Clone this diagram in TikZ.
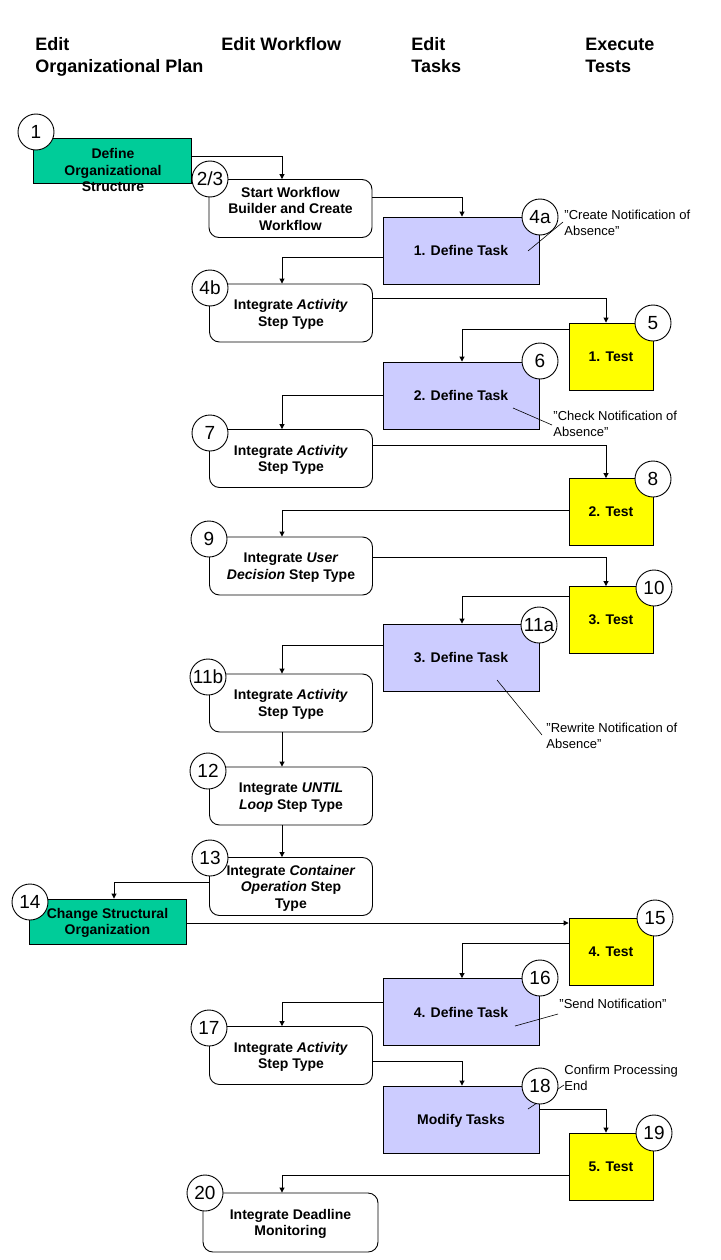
\documentclass[tikz,border=0pt]{standalone}
\usepackage{fontspec}
\setmainfont{Liberation Sans}
\usetikzlibrary{arrows.meta}
\definecolor{orggreen}{RGB}{0,204,153}
\definecolor{tasklav}{RGB}{204,204,255}
\definecolor{testyel}{RGB}{255,255,0}
\newcommand{\qq}{\symbol{34}}
\begin{document}
\begin{tikzpicture}[x=1pt,y=-1pt,
  line width=0.9pt,
  boxtext/.style={font=\bfseries\fontsize{14}{16.5}\selectfont, align=center},
  lowtext/.style={text depth=-6pt},
  wfbox/.style={draw, fill=white, rounded corners=10pt, minimum width=163pt, minimum height=58pt, inner sep=0pt, boxtext, lowtext},
  taskbox/.style={draw, fill=tasklav, minimum width=156pt, minimum height=67pt, inner sep=0pt, boxtext, lowtext},
  testbox/.style={draw, fill=testyel, minimum width=84pt, minimum height=67pt, inner sep=0pt, boxtext, lowtext},
  orgbox/.style={draw, fill=orggreen, minimum width=158pt, minimum height=45pt, inner sep=0pt, boxtext, lowtext},
  numcirc/.style={draw, fill=white, circle, minimum size=36pt, inner sep=0pt, font=\fontsize{19}{19}\selectfont},
  conn/.style={-{Triangle[width=5pt,length=5pt]}},
  note/.style={font=\fontsize{13}{16}\selectfont, align=left, inner sep=0pt, anchor=west},
  noteline/.style={line width=0.6pt},
  head/.style={font=\bfseries\fontsize{18}{22}\selectfont, inner sep=0pt, anchor=base west}
]
\fill[white] (0,0) rectangle (720,1260);
\useasboundingbox (0,0) rectangle (720,1260);

% headers
\node[head] (h1a) at (35,51) {Edit};
\node[head] (h1b) at (35,73) {Organizational Plan};
\node[head] (h2) at (221,51) {Edit Workflow};
\node[head] (h3a) at (411,51) {Edit};
\node[head] (h3b) at (411,73) {Tasks};
\node[head] (h4a) at (585,51) {Execute};
\node[head] (h4b) at (585,73) {Tests};

% boxes
\node[orgbox] (b1) at (112,160.5) {};
\node[boxtext] (b1t) at (113,170) {Define\\Organizational\\Structure};
\node[wfbox] (b23) at (290.5,208.5) {Start Workflow\\Builder and Create\\Workflow};
\node[taskbox] (t4a) at (461,250.5) {1. Define Task};
\node[wfbox] (b4b) at (291,313) {Integrate \textit{Activity}\\Step Type};
\node[testbox] (s1) at (611,356.5) {1. Test};
\node[taskbox] (t6) at (461,395.5) {2. Define Task};
\node[wfbox] (b7) at (291,458.5) {Integrate \textit{Activity}\\Step Type};
\node[testbox] (s2) at (611,512) {2. Test};
\node[wfbox] (b9) at (291,566) {Integrate \textit{User}\\\textit{Decision} Step Type};
\node[testbox] (s3) at (611,620) {3. Test};
\node[taskbox] (t11a) at (461,657.5) {3. Define Task};
\node[wfbox] (b11b) at (291,703) {Integrate \textit{Activity}\\Step Type};
\node[wfbox] (b12) at (291,796) {Integrate \textit{UNTIL}\\\textit{Loop} Step Type};
\node[wfbox] (b13) at (291,886.5) {Integrate \textit{Container}\\\textit{Operation} Step\\Type};
\node[orgbox, minimum width=157pt] (b14) at (107.5,921.5) {Change Structural\\Organization};
\node[testbox] (s4) at (611,951.5) {4. Test};
\node[taskbox] (t16) at (461,1012) {4. Define Task};
\node[wfbox] (b17) at (291,1055.5) {Integrate \textit{Activity}\\Step Type};
\node[taskbox] (tm) at (461,1119.5) {Modify Tasks};
\node[testbox] (s5) at (611,1166.5) {5. Test};
\node[wfbox, minimum width=175pt, minimum height=59pt] (b20) at (290.5,1222.5) {Integrate Deadline\\Monitoring};

% connectors
\draw[conn] ([yshift=4.5pt]b1.east) -| ([xshift=-8.5pt]b23.north);
\draw[conn] ([yshift=11.5pt]b23.east) -| ([xshift=1pt]t4a.north);
\draw[conn] ([yshift=-6.5pt]t4a.west) -| ([xshift=-9pt]b4b.north);
\draw[conn] ([yshift=15pt]b4b.east) -| ([xshift=-5pt]s1.north);
\draw[conn] ([yshift=27.5pt]s1.west) -| ([xshift=1pt]t6.north);
\draw[conn] ([yshift=0.5pt]t6.west) -| ([xshift=-9pt]b7.north);
\draw[conn] ([yshift=13.5pt]b7.east) -| ([xshift=-5pt]s2.north);
\draw[conn] ([yshift=2pt]s2.west) -| ([xshift=-9pt]b9.north);
\draw[conn] ([yshift=9pt]b9.east) -| ([xshift=-5pt]s3.north);
\draw[conn] ([yshift=24pt]s3.west) -| ([xshift=1pt]t11a.north);
\draw[conn] ([yshift=12.5pt]t11a.west) -| ([xshift=-9pt]b11b.north);
\draw[conn] ([xshift=-9pt]b11b.south) -- ([xshift=-9pt]b12.north);
\draw[conn] ([xshift=-9pt]b12.south) -- ([xshift=-9pt]b13.north);
\draw[conn] ([yshift=4.5pt]b13.west) -| ([xshift=6.5pt]b14.north);
\coordinate (c15) at ([yshift=-1.5pt]b14.east);
\draw[conn] (c15) -- (c15 -| s4.west);
\draw[conn] ([yshift=8.5pt]s4.west) -| ([xshift=1pt]t16.north);
\draw[conn] ([yshift=10pt]t16.west) -| ([xshift=-9pt]b17.north);
\draw[conn] ([yshift=-5.5pt]b17.east) -| ([xshift=1pt]tm.north);
\draw[conn] ([yshift=10.5pt]tm.east) -| ([xshift=-5pt]s5.north);
\draw[conn] ([yshift=-8.5pt]s5.west) -| ([xshift=-8.5pt]b20.north);

% annotations
\coordinate (p4a) at (528,251);
\coordinate (q4a) at (563,222);
\coordinate (p6) at (513,408);
\coordinate (q6) at (552,425);
\coordinate (p11) at (497,680);
\coordinate (q11) at (542,735);
\coordinate (p16) at (515,1026);
\coordinate (q16) at (558,1014);
\coordinate (p18) at (528,1109);
\coordinate (q18) at (564,1085);
\draw[noteline] (p4a) -- (q4a);
\draw[noteline] (p6) -- (q6);
\draw[noteline] (p11) -- (q11);
\draw[noteline] (p16) -- (q16);
\draw[noteline] (p18) -- (q18);
\node[note] (n4a) at (564,223) {\qq Create Notification of\\Absence\qq};
\node[note] (n6) at (553,423.5) {\qq Check Notification of\\Absence\qq};
\node[note] (n11) at (546,736) {\qq Rewrite Notification of\\Absence\qq};
\node[note] (n16) at (559,1004) {\qq Send Notification\qq};
\node[note] (n18) at (564,1078) {Confirm Processing\\End};

% number circles
\node[numcirc] (c1) at (36,132) {1};
\node[numcirc] (c23) at (210,179) {2/3};
\node[numcirc] (c4a) at (540,217) {4a};
\node[numcirc] (c4b) at (210,288) {4b};
\node[numcirc] (c5) at (653,323) {5};
\node[numcirc] (c6) at (540,361) {6};
\node[numcirc] (c7) at (210,433) {7};
\node[numcirc] (c8) at (653,479) {8};
\node[numcirc] (c9) at (209,539) {9};
\node[numcirc] (c10) at (654,588) {10};
\node[numcirc] (c11a) at (539,625) {11a};
\node[numcirc] (c11b) at (208,677) {11b};
\node[numcirc] (c12) at (208,771) {12};
\node[numcirc] (c13) at (210,858) {13};
\node[numcirc] (c14) at (30,902) {14};
\node[numcirc] (c15n) at (655,918) {15};
\node[numcirc] (c16) at (540,978) {16};
\node[numcirc] (c17) at (209,1028) {17};
\node[numcirc] (c18) at (540,1086) {18};
\node[numcirc] (c19) at (654,1133) {19};
\node[numcirc] (c20) at (205,1193) {20};
\end{tikzpicture}
\end{document}
